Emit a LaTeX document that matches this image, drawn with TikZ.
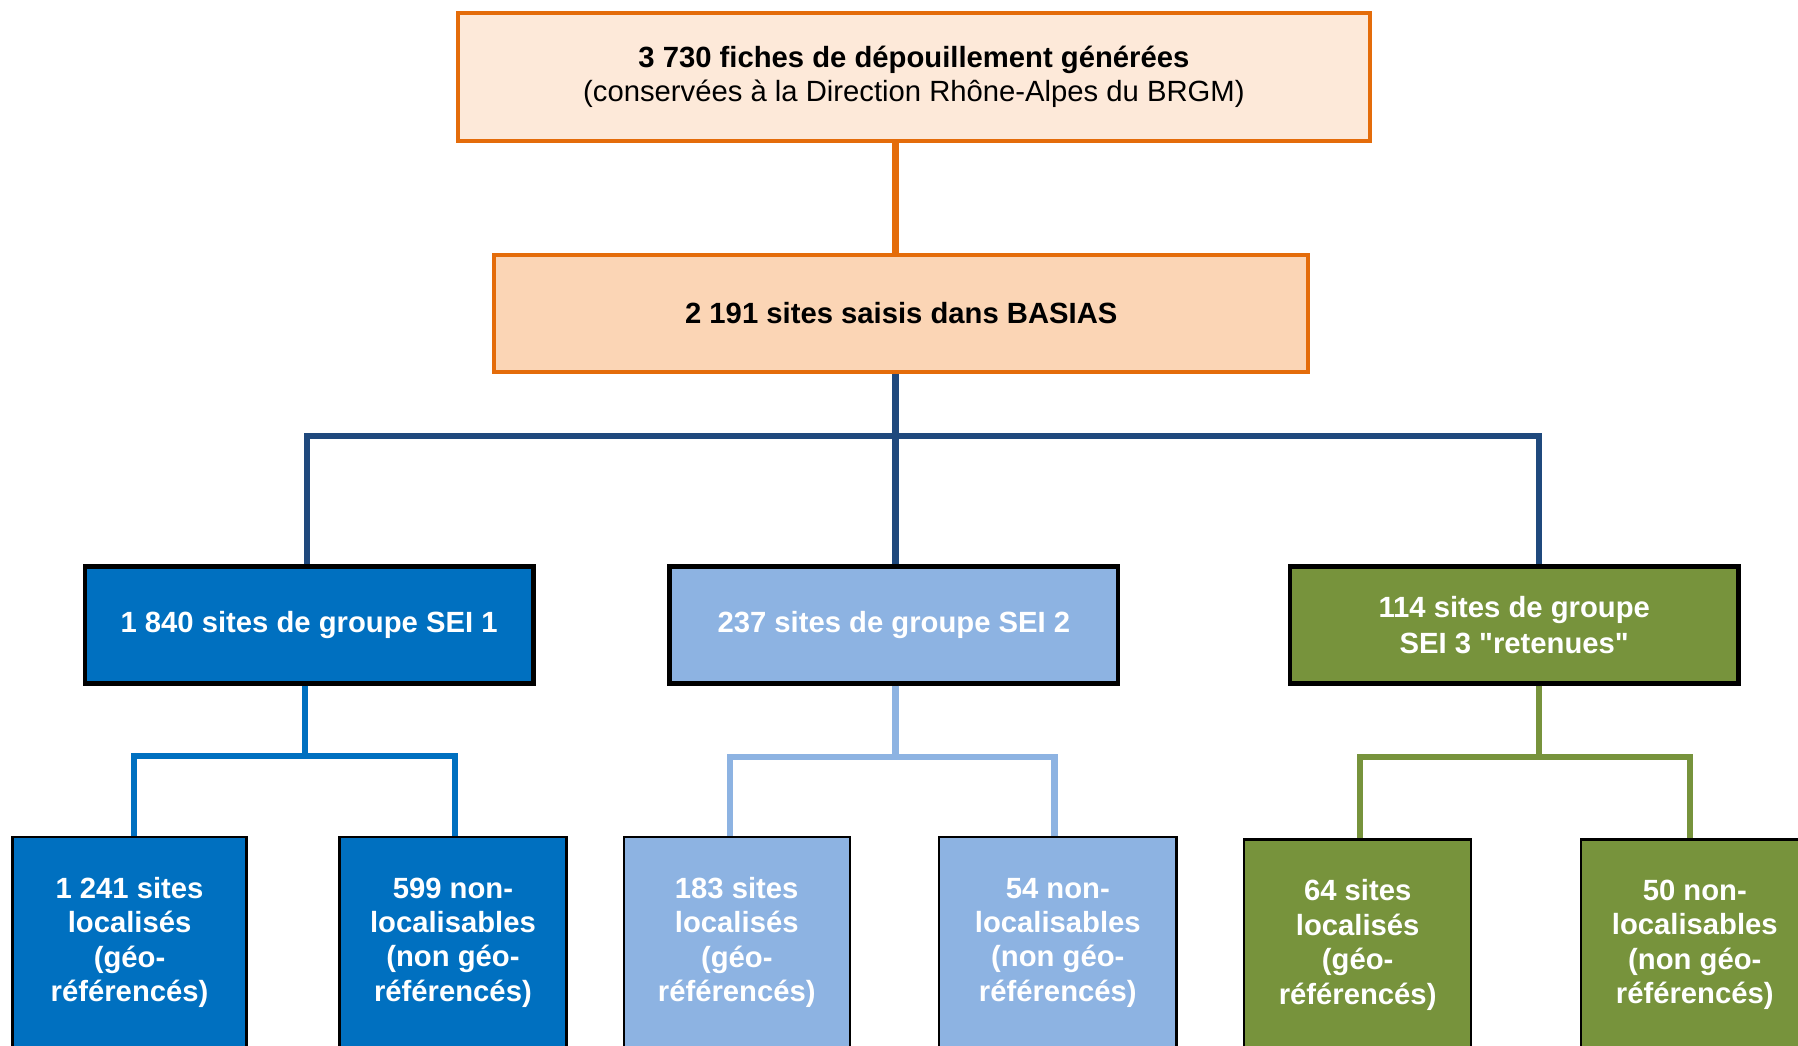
\documentclass[tikz,border=0pt]{standalone}
\usepackage{fontspec}
\setmainfont{Liberation Sans}
\usetikzlibrary{positioning}
\definecolor{brgmorange}{HTML}{E46C0A}
\definecolor{peachlight}{HTML}{FDE9D9}
\definecolor{peach}{HTML}{FBD5B5}
\definecolor{navyline}{HTML}{1F497D}
\definecolor{seiblue}{HTML}{0070C0}
\definecolor{seilight}{HTML}{8DB3E2}
\definecolor{seigreen}{HTML}{77933C}
\tikzset{
topbox/.style={draw=brgmorange, line width=3.5pt, align=center, font=\fontsize{25.5}{30}\selectfont}, % the two orange boxes
groupbox/.style={draw=black, line width=4pt, minimum width=391pt, minimum height=102pt, align=center, text=white, font=\fontsize{25.5}{31}\selectfont\bfseries}, % SEI groups
leafbox/.style={draw=black, line width=2pt, minimum height=184pt, align=center, text=white, font=\fontsize{25.5}{30}\selectfont\bfseries}, % bottom row
link/.style={line width=5.5pt}, % tree connectors
}

\begin{document}
\begin{tikzpicture}[x=1pt, y=-1pt]
    \useasboundingbox (0,0) rectangle (1568,912);
    \clip (0,0) rectangle (1568,912);

    \node[topbox, fill=peachlight, minimum width=796pt, minimum height=112pt] (fiches) at (797,67)
        {\textbf{3 730 fiches de dépouillement générées}\\(conservées à la Direction Rhône-Alpes du BRGM)};
    \node[topbox, fill=peach, minimum width=710pt, minimum height=102pt, font=\fontsize{25.5}{30}\selectfont\bfseries] (saisis) at (786,273)
        {2 191 sites saisis dans BASIAS};

    \node[groupbox, fill=seiblue] (sei1) at (269.5,545) {1 840 sites de groupe SEI 1};
    \node[groupbox, fill=seilight] (sei2) at (779.5,545) {237 sites de groupe SEI 2};
    \node[groupbox, fill=seigreen] (sei3) at (1320.5,545) {114 sites de groupe\\SEI 3 \textquotedbl retenues\textquotedbl};

    \node[leafbox, fill=seiblue, minimum width=204pt] (loc1) at (113,822) {1 241 sites\\localisés\\(géo-\\référencés)};
    \node[leafbox, fill=seiblue, minimum width=198pt] (nonloc1) at (395,822) {599 non-\\localisables\\(non géo-\\référencés)};
    \node[leafbox, fill=seilight, minimum width=197pt] (loc2) at (642.5,822) {183 sites\\localisés\\(géo-\\référencés)};
    \node[leafbox, fill=seilight, minimum width=207pt] (nonloc2) at (922.5,822) {54 non-\\localisables\\(non géo-\\référencés)};
    \node[leafbox, fill=seigreen, minimum width=198pt] (loc3) at (1184,824) {64 sites\\localisés\\(géo-\\référencés)};
    \node[leafbox, fill=seigreen, minimum width=198pt] (nonloc3) at (1478,824) {50 non-\\localisables\\(non géo-\\référencés)};

    % junction points of the tree
    \coordinate (trunk) at (781,380);
    \coordinate (left) at (268,380);
    \coordinate (right) at (1342,380);
    \coordinate (hub1) at (266,659);
    \coordinate (hub2) at (781,660);
    \coordinate (hub3) at (1342,660);

    \draw[link, brgmorange] (fiches.south -| trunk) -- (saisis.north -| trunk);

    \draw[link, navyline] (saisis.south -| trunk) -- (trunk);
    \draw[link, navyline] (sei1.north -| left) -- (left) -- (right) -- (sei3.north -| right);
    \draw[link, navyline] (trunk) -- (sei2.north -| trunk);

    \draw[link, seiblue] (sei1.south -| hub1) -- (hub1);
    \draw[link, seiblue] ([xshift=4pt]loc1.north) |- (hub1) -| ([xshift=2pt]nonloc1.north);
    \draw[link, seilight] (sei2.south -| hub2) -- (hub2);
    \draw[link, seilight] ([xshift=-6pt]loc2.north) |- (hub2) -| ([xshift=-3pt]nonloc2.north);
    \draw[link, seigreen] (sei3.south -| hub3) -- (hub3);
    \draw[link, seigreen] ([xshift=2pt]loc3.north) |- (hub3) -| ([xshift=-4pt]nonloc3.north);
\end{tikzpicture}
\end{document}
